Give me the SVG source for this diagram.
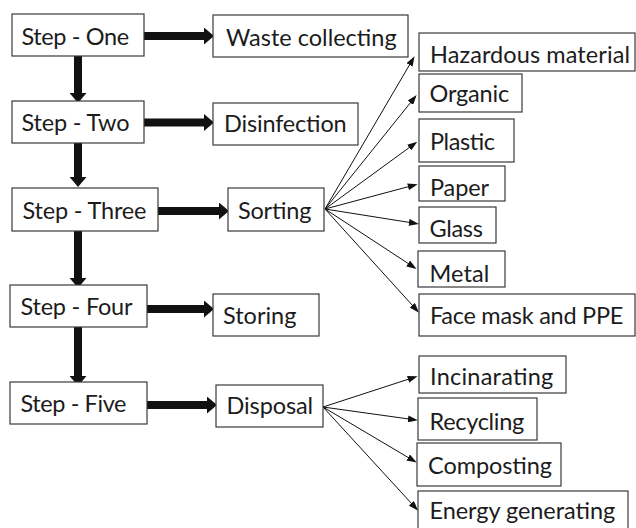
<svg xmlns="http://www.w3.org/2000/svg" width="636" height="528" viewBox="0 0 636 528">
<style>
  .box { fill: #ffffff; stroke: #3a3a3a; stroke-width: 1.2; }
  .lbl { font-family: Lato, "Open Sans", "Liberation Sans", sans-serif; font-size: 23.5px; fill: #1c1c1c; }
  .thick { stroke: #111111; stroke-width: 8; fill: none; marker-end: url(#bigHead); }
  .thin { stroke: #111111; stroke-width: 1; fill: none; marker-end: url(#smallHead); }
</style>
<defs>
  <marker id="bigHead" markerUnits="userSpaceOnUse" viewBox="0 0 10 17" markerWidth="10" markerHeight="17" refX="0" refY="8.5" orient="auto">
    <path d="M0,0 L10,8.5 L0,17 Z" fill="#111111"/>
  </marker>
  <marker id="smallHead" markerUnits="userSpaceOnUse" viewBox="0 0 10 7" markerWidth="10" markerHeight="7" refX="1" refY="3.5" orient="auto">
    <path d="M0,0 L10,3.5 L0,7 Z" fill="#111111"/>
  </marker>
</defs>
<rect width="636" height="528" fill="#ffffff"/>

<g id="connectors">
  <line class="thick" x1="144" y1="36" x2="204" y2="36"/>
  <line class="thick" x1="144" y1="122.5" x2="204" y2="122.5"/>
  <line class="thick" x1="158" y1="211" x2="219" y2="211"/>
  <line class="thick" x1="147" y1="309" x2="204" y2="309"/>
  <line class="thick" x1="147" y1="405" x2="207" y2="405"/>
  <line class="thick" x1="78" y1="56" x2="78" y2="93"/>
  <line class="thick" x1="78" y1="143" x2="78" y2="177"/>
  <line class="thick" x1="78" y1="231" x2="78" y2="278"/>
  <line class="thick" x1="78" y1="327" x2="78" y2="376"/>

  <line class="thin" x1="325" y1="209" x2="410" y2="64"/>
  <line class="thin" x1="325" y1="209" x2="411" y2="102"/>
  <line class="thin" x1="325" y1="209" x2="410" y2="147"/>
  <line class="thin" x1="325" y1="209" x2="409" y2="186.5"/>
  <line class="thin" x1="325" y1="209" x2="410" y2="222.5"/>
  <line class="thin" x1="325" y1="209" x2="409" y2="264"/>
  <line class="thin" x1="325" y1="209" x2="413" y2="306"/>

  <line class="thin" x1="323" y1="407" x2="409" y2="379"/>
  <line class="thin" x1="323" y1="407" x2="409" y2="419"/>
  <line class="thin" x1="323" y1="407" x2="409" y2="458"/>
  <line class="thin" x1="323" y1="407" x2="412" y2="504"/>
</g>

<g id="step-one"><rect class="box" x="12" y="14" width="132" height="42"/><text class="lbl" x="21.5" y="45" textLength="107.6">Step - One</text></g>
<g id="step-two"><rect class="box" x="12" y="101" width="132" height="42"/><text class="lbl" x="21.5" y="131" textLength="108">Step - Two</text></g>
<g id="step-three"><rect class="box" x="12" y="188" width="146" height="43"/><text class="lbl" x="22.5" y="218.5" textLength="124">Step - Three</text></g>
<g id="step-four"><rect class="box" x="10" y="285" width="137" height="42"/><text class="lbl" x="20.5" y="314.5" textLength="112">Step - Four</text></g>
<g id="step-five"><rect class="box" x="10" y="382" width="137" height="42"/><text class="lbl" x="20.5" y="411.5" textLength="106">Step - Five</text></g>

<g id="waste-collecting"><rect class="box" x="213" y="15" width="195" height="42"/><text class="lbl" x="226" y="46" textLength="170.7">Waste collecting</text></g>
<g id="disinfection"><rect class="box" x="213" y="103" width="145" height="42"/><text class="lbl" x="224" y="131.5" textLength="122.7">Disinfection</text></g>
<g id="sorting"><rect class="box" x="228" y="188" width="96" height="43"/><text class="lbl" x="238" y="218.5" textLength="73.4">Sorting</text></g>
<g id="storing"><rect class="box" x="213" y="294" width="106" height="42"/><text class="lbl" x="223" y="323.5" textLength="73.4">Storing</text></g>
<g id="disposal"><rect class="box" x="216" y="385" width="107" height="42"/><text class="lbl" x="226.5" y="414" textLength="86.6">Disposal</text></g>

<g id="hazardous-material"><rect class="box" x="419" y="33" width="216" height="38"/><text class="lbl" x="430" y="62.5" textLength="200">Hazardous material</text></g>
<g id="organic"><rect class="box" x="419" y="74" width="103" height="38"/><text class="lbl" x="429.5" y="102" textLength="79.7">Organic</text></g>
<g id="plastic"><rect class="box" x="419" y="119" width="95" height="43"/><text class="lbl" x="430" y="149.5" textLength="65">Plastic</text></g>
<g id="paper"><rect class="box" x="419" y="166" width="86" height="35"/><text class="lbl" x="430" y="196" textLength="59">Paper</text></g>
<g id="glass"><rect class="box" x="419" y="207" width="77" height="36"/><text class="lbl" x="429.5" y="236.5" textLength="53.4">Glass</text></g>
<g id="metal"><rect class="box" x="418" y="251" width="87" height="36"/><text class="lbl" x="429.5" y="281.5" textLength="59.7">Metal</text></g>
<g id="face-mask-ppe"><rect class="box" x="419" y="294" width="216" height="42"/><text class="lbl" x="430" y="323.5" textLength="193.3">Face mask and PPE</text></g>

<g id="incinarating"><rect class="box" x="419" y="356" width="147" height="37"/><text class="lbl" x="430" y="385" textLength="123.3">Incinarating</text></g>
<g id="recycling"><rect class="box" x="418" y="398" width="119" height="42"/><text class="lbl" x="429.5" y="429.5" textLength="94.7">Recycling</text></g>
<g id="composting"><rect class="box" x="417" y="443" width="144" height="43"/><text class="lbl" x="428" y="473.5" textLength="124">Composting</text></g>
<g id="energy-generating"><rect class="box" x="418" y="491" width="210" height="40"/><text class="lbl" x="429.5" y="518.5" textLength="185.7">Energy generating</text></g>
</svg>
